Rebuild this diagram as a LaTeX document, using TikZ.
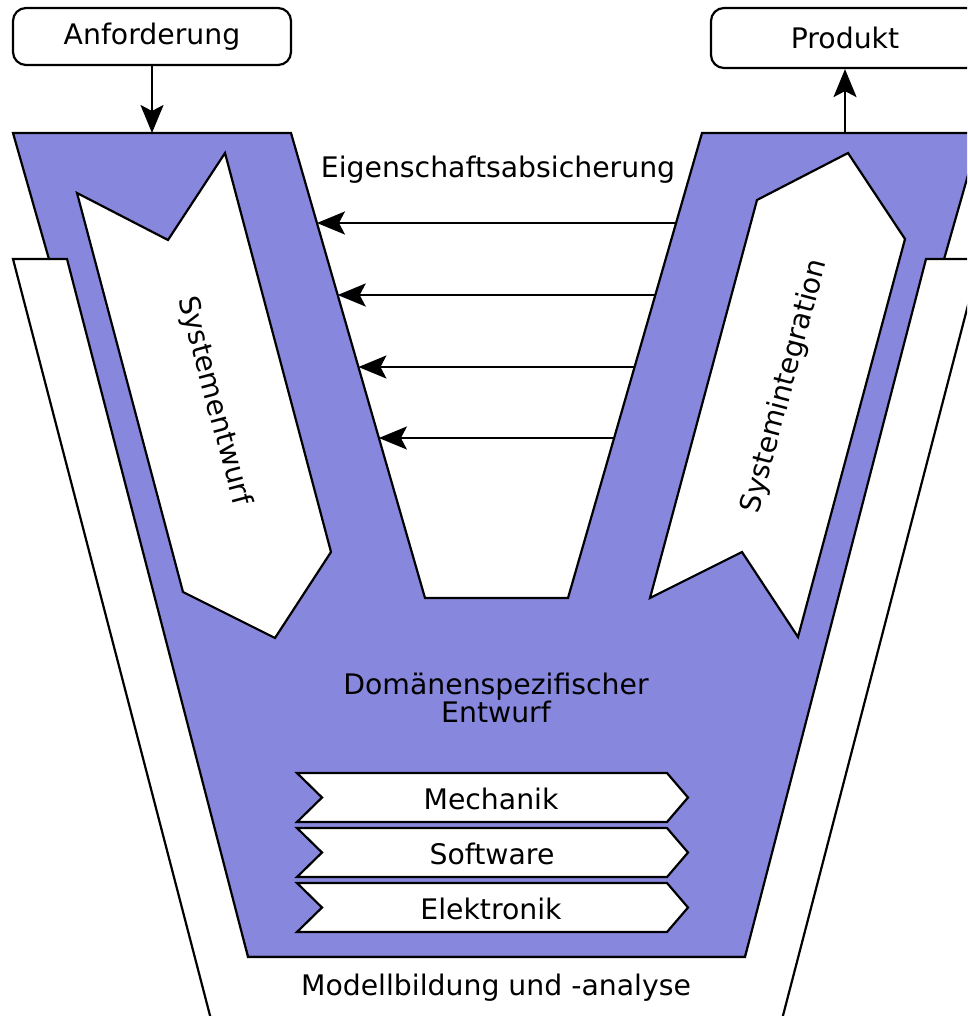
\documentclass[tikz,border=0pt]{standalone}
\usepackage{fontspec}
\setmainfont{DejaVu Sans}
\usetikzlibrary{arrows.meta}
\definecolor{vblue}{RGB}{135,136,221}

\begin{document}
\begin{tikzpicture}[x=1pt,y=-1pt,
  every node/.style={font=\fontsize{28.3}{27}\selectfont, inner sep=0pt},
  outline/.style={draw=black, line width=2.2pt, line join=miter},
  vshape/.style={outline, fill=vblue},
  panel/.style={outline, fill=white},
  labelbox/.style={draw=black, line width=2.2pt, fill=white, rounded corners=13pt},
  conn/.style={draw=black, line width=2.2pt, -{Stealth[length=28pt,width=23pt,inset=6pt]}},
  lbl/.style={text=black}
]
\useasboundingbox (0,0) rectangle (967,1016);
\clip (0,0) rectangle (967,1016);

% V-shaped process body
\path[vshape] (13,133) -- (291,133) -- (425,598) -- (568,598) -- (702,133)
  -- (980,133) -- (745,957) -- (248,957) -- cycle;

% outer band (modelling and analysis)
\path[panel] (13,259) -- (232,1100) -- (761,1100) -- (980,259) -- (926,259)
  -- (745,957) -- (248,957) -- (67,259) -- cycle;

% system design (downward arrow)
\path[panel] (77,193) -- (168,240) -- (225,153) -- (331,552) -- (275,638)
  -- (183,592) -- cycle;

% system integration (upward arrow)
\path[panel] (757,200) -- (848,153) -- (905,239) -- (798,637) -- (742,552)
  -- (650,598) -- cycle;

% domain chevrons
\foreach \yy/\name in {773/chm, 828/chs, 883/che}{
  \path[panel] (297,\yy) -- (667,\yy) -- (688,\yy+24.5) -- (667,\yy+49)
    -- (297,\yy+49) -- (322,\yy+24.5) -- cycle;
}

% labels
\node[labelbox, minimum width=278pt, minimum height=57pt] (anf) at (152,36.5) {Anforderung};
\node[labelbox, minimum width=268pt, minimum height=60pt] (prod) at (845,38) {Produkt};

\coordinate (anfIn) at (152,133);
\coordinate (prodOut) at (845,133);
\draw[conn] (anf.south) -- (anfIn);
\draw[conn] (prodOut) -- (prod.south);

% property assurance arrows
\foreach \yy/\i in {223/1, 295/2, 367/3, 438/4}{
  \coordinate (r\i) at ({702-0.2882*(\yy-133)},\yy);
  \coordinate (l\i) at ({291+0.2882*(\yy-133)},\yy);
  \draw[conn] (r\i) -- (l\i);
}

\node[lbl] (eig) at (498,170) {Eigenschaftsabsicherung};
\node[lbl, rotate=-75] (sysent) at (214,401) {Systementwurf};
\node[lbl, rotate=75] (sysint) at (785,386) {Systemintegration};
\node[lbl, align=center] (dom) at (496,698) {Domänenspezifischer\\Entwurf};
\node[lbl] (mech) at (491,799) {Mechanik};
\node[lbl] (soft) at (492,854) {Software};
\node[lbl] (elek) at (491,909) {Elektronik};
\node[lbl] (model) at (496,988) {Modellbildung und -analyse};
\end{tikzpicture}
\end{document}
